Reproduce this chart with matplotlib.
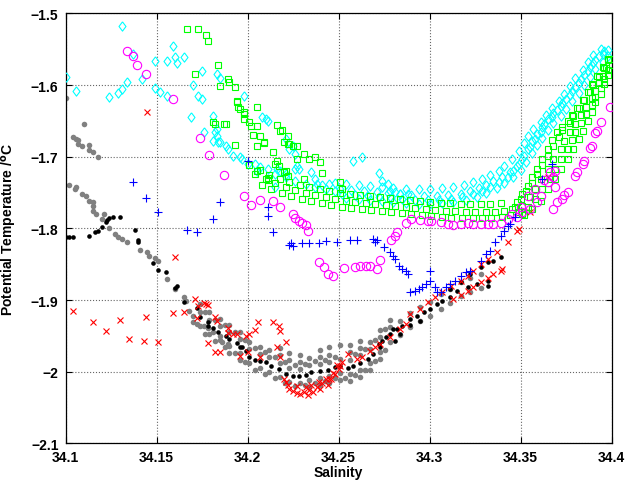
import numpy as np
import matplotlib
matplotlib.use("Agg")
import matplotlib.pyplot as plt

plt.rcParams['font.family'] = ['Liberation Sans', 'DejaVu Sans']
plt.rcParams['font.weight'] = 'bold'
plt.rcParams['mathtext.default'] = 'bf'

# ---- data (salinity, potential temperature) ----
cyan_pts = [
    (34.100, -1.589), (34.131, -1.517), (34.106, -1.608), (34.124, -1.617), (34.129, -1.611),
    (34.131, -1.605), (34.134, -1.596), (34.142, -1.591), (34.137, -1.556), (34.149, -1.566),
    (34.149, -1.604), (34.152, -1.610), (34.156, -1.615), (34.159, -1.545), (34.156, -1.566),
    (34.160, -1.561), (34.161, -1.569), (34.165, -1.561), (34.169, -1.645), (34.170, -1.600),
    (34.173, -1.615), (34.175, -1.620), (34.175, -1.580), (34.176, -1.665), (34.181, -1.643),
    (34.183, -1.584), (34.185, -1.590), (34.183, -1.661), (34.183, -1.671), (34.185, -1.680),
    (34.188, -1.685), (34.189, -1.689), (34.192, -1.699), (34.196, -1.700), (34.198, -1.615),
    (34.197, -1.703), (34.200, -1.710), (34.205, -1.720), (34.182, -1.666), (34.181, -1.678),
    (34.184, -1.680), (34.204, -1.710), (34.207, -1.714), (34.211, -1.717), (34.208, -1.645),
    (34.211, -1.650), (34.216, -1.717), (34.215, -1.742), (34.218, -1.720), (34.221, -1.724),
    (34.225, -1.685), (34.226, -1.717), (34.227, -1.713), (34.235, -1.721), (34.237, -1.731),
    (34.238, -1.738), (34.210, -1.647), (34.258, -1.706), (34.263, -1.700), (34.272, -1.722),
    (34.274, -1.734), (34.277, -1.738), (34.223, -1.689), (34.221, -1.675), (34.278, -1.747),
    (34.281, -1.749), (34.284, -1.752), (34.288, -1.752), (34.241, -1.740), (34.245, -1.738),
    (34.228, -1.717), (34.226, -1.696), (34.215, -1.724), (34.221, -1.728), (34.226, -1.734),
    (34.232, -1.738), (34.237, -1.742), (34.243, -1.745), (34.248, -1.748),
]
cyan_band = [
    (34.251, -1.745), (34.257, -1.746), (34.264, -1.748), (34.271, -1.749), (34.277, -1.750),
    (34.284, -1.752), (34.290, -1.753), (34.297, -1.755), (34.304, -1.755), (34.310, -1.753),
    (34.317, -1.752), (34.322, -1.748), (34.327, -1.743), (34.331, -1.739), (34.335, -1.734),
    (34.340, -1.728), (34.344, -1.721), (34.348, -1.713), (34.351, -1.703), (34.354, -1.689),
    (34.356, -1.678), (34.359, -1.668), (34.362, -1.658), (34.365, -1.647), (34.368, -1.639),
    (34.372, -1.629), (34.375, -1.619), (34.378, -1.608), (34.382, -1.597), (34.385, -1.586),
    (34.388, -1.575), (34.391, -1.565), (34.395, -1.556), (34.398, -1.551),
    (34.254, -1.757), (34.261, -1.759), (34.267, -1.760), (34.274, -1.761), (34.280, -1.763),
    (34.287, -1.764), (34.294, -1.766), (34.300, -1.766), (34.307, -1.764), (34.313, -1.763),
    (34.320, -1.760), (34.326, -1.756), (34.331, -1.750), (34.337, -1.743), (34.341, -1.736),
    (34.346, -1.728), (34.350, -1.718), (34.353, -1.707), (34.356, -1.695), (34.359, -1.683),
    (34.362, -1.674), (34.365, -1.662), (34.368, -1.653), (34.372, -1.643), (34.375, -1.633),
    (34.378, -1.622), (34.382, -1.611), (34.385, -1.600), (34.388, -1.589), (34.391, -1.577),
    (34.395, -1.568), (34.398, -1.559),
    (34.248, -1.736), (34.254, -1.738), (34.261, -1.739), (34.267, -1.741), (34.274, -1.742),
    (34.280, -1.743), (34.287, -1.745), (34.294, -1.745), (34.300, -1.745), (34.307, -1.743),
    (34.313, -1.742), (34.319, -1.739), (34.324, -1.735), (34.329, -1.731), (34.333, -1.725),
    (34.338, -1.720), (34.341, -1.713), (34.345, -1.703), (34.349, -1.692), (34.352, -1.681),
    (34.354, -1.671), (34.357, -1.661), (34.361, -1.651), (34.364, -1.642), (34.367, -1.632),
    (34.371, -1.622), (34.374, -1.612), (34.377, -1.601), (34.380, -1.590), (34.384, -1.579),
    (34.387, -1.568), (34.390, -1.558), (34.394, -1.550),
    (34.252, -1.752), (34.259, -1.753), (34.266, -1.755), (34.272, -1.756), (34.279, -1.757),
    (34.285, -1.759), (34.292, -1.760), (34.299, -1.760), (34.305, -1.760), (34.312, -1.759),
    (34.318, -1.756), (34.324, -1.752), (34.329, -1.748), (34.333, -1.742), (34.338, -1.735),
    (34.343, -1.728), (34.346, -1.720), (34.349, -1.710), (34.352, -1.699), (34.355, -1.686),
    (34.358, -1.675), (34.361, -1.665), (34.363, -1.654), (34.367, -1.644), (34.370, -1.635),
    (34.373, -1.625), (34.377, -1.614), (34.380, -1.603), (34.383, -1.591), (34.387, -1.580),
    (34.390, -1.569), (34.393, -1.559), (34.396, -1.552),
]
green_pts = [
    (34.167, -1.522), (34.173, -1.522), (34.177, -1.530), (34.178, -1.538), (34.184, -1.572),
    (34.171, -1.584), (34.189, -1.591), (34.190, -1.596), (34.185, -1.601), (34.193, -1.603),
    (34.194, -1.622), (34.196, -1.633), (34.198, -1.637), (34.198, -1.647), (34.181, -1.651),
    (34.187, -1.654), (34.188, -1.654), (34.201, -1.651), (34.202, -1.657), (34.203, -1.669),
    (34.205, -1.685), (34.193, -1.683), (34.194, -1.623), (34.195, -1.630), (34.198, -1.640),
    (34.205, -1.630), (34.205, -1.657), (34.207, -1.671), (34.209, -1.679), (34.216, -1.656),
    (34.182, -1.654), (34.218, -1.664), (34.222, -1.671), (34.220, -1.679), (34.222, -1.682),
    (34.225, -1.685), (34.214, -1.693), (34.227, -1.703), (34.231, -1.696), (34.234, -1.703),
    (34.237, -1.700), (34.216, -1.706), (34.221, -1.720), (34.222, -1.727), (34.231, -1.731),
    (34.205, -1.720), (34.211, -1.729), (34.219, -1.662), (34.209, -1.681), (34.223, -1.682),
    (34.227, -1.685), (34.240, -1.707), (34.215, -1.710), (34.217, -1.713), (34.220, -1.721),
    (34.211, -1.732), (34.241, -1.722), (34.251, -1.735), (34.252, -1.745),
]
green_band = [
    (34.204, -1.724), (34.210, -1.731), (34.215, -1.736), (34.221, -1.742), (34.226, -1.746),
    (34.232, -1.750), (34.237, -1.753), (34.243, -1.756), (34.248, -1.759), (34.254, -1.761),
    (34.259, -1.763), (34.265, -1.764), (34.270, -1.766), (34.276, -1.767), (34.281, -1.768),
    (34.287, -1.770), (34.292, -1.771), (34.298, -1.773), (34.303, -1.774), (34.309, -1.775),
    (34.314, -1.775), (34.320, -1.777), (34.325, -1.777), (34.331, -1.777), (34.336, -1.777),
    (34.341, -1.775), (34.345, -1.773),
    (34.201, -1.711), (34.207, -1.718), (34.212, -1.725), (34.218, -1.731), (34.223, -1.735),
    (34.229, -1.739), (34.234, -1.742), (34.240, -1.745), (34.245, -1.748), (34.251, -1.750),
    (34.256, -1.752), (34.262, -1.753), (34.267, -1.755), (34.273, -1.756), (34.278, -1.757),
    (34.284, -1.759), (34.289, -1.760), (34.295, -1.761), (34.300, -1.763), (34.306, -1.764),
    (34.311, -1.764), (34.317, -1.766), (34.322, -1.766), (34.328, -1.766), (34.333, -1.766),
    (34.339, -1.764),
    (34.208, -1.739), (34.213, -1.745), (34.219, -1.750), (34.224, -1.755), (34.230, -1.759),
    (34.235, -1.761), (34.241, -1.764), (34.246, -1.767), (34.252, -1.770), (34.257, -1.771),
    (34.263, -1.773), (34.268, -1.774), (34.274, -1.775), (34.279, -1.777), (34.285, -1.778),
    (34.290, -1.780), (34.296, -1.781), (34.301, -1.782), (34.307, -1.784), (34.312, -1.785),
    (34.318, -1.785), (34.324, -1.785), (34.329, -1.785), (34.334, -1.785), (34.340, -1.784),
    (34.344, -1.781),
    (34.348, -1.763), (34.351, -1.752), (34.354, -1.741), (34.356, -1.728), (34.359, -1.717),
    (34.362, -1.703), (34.365, -1.689), (34.367, -1.676), (34.370, -1.665), (34.373, -1.658),
    (34.376, -1.650), (34.378, -1.642), (34.381, -1.632), (34.384, -1.621), (34.387, -1.609),
    (34.389, -1.598), (34.392, -1.587), (34.395, -1.575), (34.398, -1.563),
    (34.347, -1.770), (34.350, -1.759), (34.353, -1.748), (34.356, -1.736), (34.359, -1.724),
    (34.362, -1.711), (34.365, -1.699), (34.368, -1.685), (34.371, -1.672), (34.373, -1.662),
    (34.377, -1.653), (34.379, -1.643), (34.382, -1.632), (34.385, -1.621), (34.388, -1.609),
    (34.390, -1.600), (34.393, -1.589), (34.396, -1.576), (34.398, -1.565),
    (34.349, -1.777), (34.351, -1.768), (34.355, -1.756), (34.358, -1.745), (34.361, -1.731),
    (34.365, -1.717), (34.368, -1.703), (34.372, -1.689), (34.374, -1.678), (34.377, -1.665),
    (34.380, -1.654), (34.383, -1.642), (34.386, -1.630), (34.389, -1.618), (34.391, -1.608),
    (34.393, -1.597), (34.395, -1.587), (34.397, -1.576), (34.399, -1.563),
    (34.351, -1.780), (34.354, -1.770), (34.358, -1.759), (34.362, -1.745), (34.366, -1.731),
    (34.369, -1.717), (34.372, -1.703), (34.376, -1.689), (34.378, -1.676), (34.380, -1.665),
    (34.383, -1.653), (34.386, -1.640), (34.389, -1.628), (34.391, -1.616), (34.394, -1.604),
    (34.396, -1.591), (34.398, -1.579),
    (34.352, -1.781), (34.356, -1.773), (34.361, -1.761), (34.365, -1.745), (34.369, -1.731),
    (34.372, -1.717), (34.376, -1.703), (34.379, -1.689), (34.382, -1.675), (34.384, -1.664),
    (34.387, -1.650), (34.389, -1.637), (34.391, -1.623), (34.394, -1.612), (34.396, -1.598),
    (34.398, -1.586), (34.400, -1.572),
]
magenta_pts = [
    (34.134, -1.552), (34.137, -1.559), (34.139, -1.572), (34.144, -1.584), (34.159, -1.619),
    (34.174, -1.674), (34.179, -1.697), (34.187, -1.725), (34.198, -1.755), (34.202, -1.767),
    (34.207, -1.760), (34.214, -1.761), (34.218, -1.770), (34.225, -1.780), (34.226, -1.785),
    (34.228, -1.789), (34.230, -1.792), (34.232, -1.795), (34.233, -1.803), (34.239, -1.847),
    (34.242, -1.854), (34.244, -1.863), (34.247, -1.866), (34.253, -1.855), (34.259, -1.854),
    (34.262, -1.852), (34.265, -1.852), (34.267, -1.852), (34.271, -1.856), (34.273, -1.844),
    (34.279, -1.816), (34.281, -1.810), (34.282, -1.805), (34.287, -1.792), (34.290, -1.787),
    (34.295, -1.788), (34.299, -1.789), (34.301, -1.789), (34.306, -1.791), (34.310, -1.794),
    (34.313, -1.795), (34.317, -1.794), (34.321, -1.792), (34.324, -1.794), (34.328, -1.794),
    (34.332, -1.794), (34.335, -1.794), (34.339, -1.792), (34.343, -1.787), (34.345, -1.780),
    (34.348, -1.784), (34.351, -1.777), (34.355, -1.773), (34.359, -1.763), (34.361, -1.755),
    (34.365, -1.735), (34.366, -1.721), (34.368, -1.728), (34.369, -1.742), (34.368, -1.773),
    (34.370, -1.763), (34.373, -1.759), (34.374, -1.753), (34.376, -1.749), (34.380, -1.727),
    (34.381, -1.721), (34.384, -1.710), (34.385, -1.706), (34.388, -1.688), (34.389, -1.685),
    (34.391, -1.667), (34.392, -1.664), (34.394, -1.651), (34.399, -1.630), (34.354, -1.755),
    (34.350, -1.770), (34.358, -1.745), (34.363, -1.732), (34.369, -1.720),
]
blue_pts = [
    (34.137, -1.735), (34.200, -1.706), (34.144, -1.757), (34.151, -1.777), (34.167, -1.802),
    (34.172, -1.805), (34.181, -1.787), (34.185, -1.763), (34.211, -1.770), (34.211, -1.782),
    (34.214, -1.805), (34.223, -1.823), (34.225, -1.824), (34.224, -1.820), (34.230, -1.820),
    (34.234, -1.820), (34.239, -1.820), (34.243, -1.817), (34.249, -1.819), (34.256, -1.816),
    (34.260, -1.816), (34.269, -1.815), (34.271, -1.816), (34.270, -1.819), (34.275, -1.826),
    (34.278, -1.833), (34.280, -1.838), (34.281, -1.842), (34.283, -1.852), (34.285, -1.856),
    (34.287, -1.859), (34.288, -1.863), (34.300, -1.859), (34.300, -1.873), (34.303, -1.881),
    (34.304, -1.888), (34.289, -1.888), (34.292, -1.887), (34.294, -1.884), (34.296, -1.881),
    (34.298, -1.877), (34.306, -1.888), (34.309, -1.881), (34.311, -1.877), (34.314, -1.873),
    (34.317, -1.866), (34.320, -1.861), (34.322, -1.859), (34.328, -1.845), (34.331, -1.835),
    (34.333, -1.831), (34.336, -1.819), (34.339, -1.810), (34.341, -1.803), (34.344, -1.794),
    (34.347, -1.784), (34.367, -1.710), (34.362, -1.731), (34.343, -1.796),
]
red_pts = [
    (34.145, -1.637), (34.160, -1.840), (34.104, -1.915), (34.115, -1.930), (34.122, -1.943),
    (34.130, -1.928), (34.135, -1.954), (34.143, -1.957), (34.144, -1.923), (34.151, -1.958),
    (34.159, -1.918), (34.165, -1.916), (34.171, -1.898), (34.173, -1.908), (34.176, -1.904),
    (34.178, -1.907), (34.172, -1.925), (34.178, -1.960), (34.182, -1.923), (34.183, -1.929),
    (34.189, -1.939), (34.189, -1.946), (34.192, -1.947), (34.194, -1.947), (34.199, -1.950),
    (34.201, -1.947), (34.204, -1.941), (34.206, -1.930), (34.177, -1.905), (34.214, -1.930),
    (34.217, -1.936), (34.218, -1.943), (34.221, -1.958), (34.216, -1.965), (34.182, -1.972),
    (34.185, -1.973), (34.196, -1.978), (34.207, -1.980), (34.218, -1.979), (34.200, -1.972),
    (34.222, -2.018), (34.225, -2.027), (34.229, -2.031), (34.233, -2.032), (34.236, -2.028),
    (34.240, -2.024), (34.244, -2.018), (34.246, -2.010), (34.248, -2.003), (34.250, -1.996),
    (34.251, -1.992), (34.252, -1.986), (34.260, -1.982), (34.263, -1.979), (34.223, -2.024),
    (34.227, -2.029), (34.231, -2.028), (34.234, -2.025), (34.238, -2.021), (34.241, -2.015),
    (34.245, -2.010), (34.247, -2.001), (34.249, -1.990), (34.227, -2.020), (34.232, -2.021),
    (34.235, -2.018), (34.239, -2.014), (34.243, -2.010), (34.220, -2.010), (34.221, -2.014),
    (34.255, -1.975), (34.267, -1.971), (34.270, -1.965), (34.273, -1.961), (34.289, -1.919),
    (34.295, -1.912), (34.299, -1.902), (34.303, -1.895), (34.307, -1.888), (34.312, -1.880),
    (34.317, -1.873), (34.321, -1.866), (34.324, -1.859), (34.328, -1.850), (34.332, -1.842),
    (34.337, -1.833), (34.343, -1.819), (34.348, -1.803), (34.349, -1.801), (34.355, -1.777),
    (34.365, -1.728), (34.313, -1.898), (34.317, -1.893), (34.321, -1.887), (34.324, -1.881),
    (34.328, -1.874), (34.332, -1.869), (34.335, -1.863), (34.339, -1.859), (34.340, -1.856),
    (34.284, -1.940), (34.278, -1.951), (34.287, -1.933),
]
black_pts = [
    (34.100, -1.812), (34.102, -1.812), (34.104, -1.812), (34.113, -1.810), (34.116, -1.805),
    (34.118, -1.803), (34.120, -1.798), (34.122, -1.791), (34.123, -1.788), (34.124, -1.785),
    (34.126, -1.784), (34.130, -1.784), (34.138, -1.802), (34.140, -1.816), (34.140, -1.819),
    (34.148, -1.848), (34.151, -1.858), (34.155, -1.861), (34.161, -1.880), (34.160, -1.883),
    (34.165, -1.902), (34.172, -1.911), (34.174, -1.923), (34.178, -1.930), (34.178, -1.936),
    (34.181, -1.939), (34.184, -1.944), (34.188, -1.950), (34.190, -1.954), (34.194, -1.960),
    (34.196, -1.965), (34.197, -1.965), (34.199, -1.971), (34.201, -1.980), (34.204, -1.983),
    (34.207, -1.985), (34.210, -1.986), (34.213, -1.992), (34.217, -1.996), (34.221, -2.003),
    (34.225, -2.006), (34.228, -2.006), (34.232, -2.004), (34.235, -2.000), (34.240, -1.999),
    (34.244, -1.997), (34.248, -1.993), (34.251, -1.992), (34.255, -1.994), (34.258, -1.992),
    (34.262, -1.987), (34.266, -1.982), (34.269, -1.975), (34.272, -1.961), (34.273, -1.965),
    (34.274, -1.957), (34.278, -1.947), (34.282, -1.940), (34.285, -1.936), (34.289, -1.926),
    (34.293, -1.922), (34.297, -1.916), (34.300, -1.912), (34.304, -1.905), (34.307, -1.901),
    (34.311, -1.895), (34.315, -1.887), (34.321, -1.881), (34.326, -1.877), (34.332, -1.873),
    (34.332, -1.880), (34.328, -1.854), (34.332, -1.847), (34.335, -1.845), (34.339, -1.840),
    (34.322, -1.863), (34.317, -1.875), (34.311, -1.884), (34.276, -1.951), (34.280, -1.940),
    (34.284, -1.947), (34.289, -1.934), (34.295, -1.929), (34.281, -1.957),
]
gray_pts = [
    (34.100, -1.618), (34.110, -1.654), (34.104, -1.672), (34.106, -1.675), (34.107, -1.676),
    (34.107, -1.682), (34.109, -1.685), (34.113, -1.683), (34.113, -1.690), (34.115, -1.693),
    (34.118, -1.700), (34.102, -1.739), (34.106, -1.742), (34.105, -1.745), (34.109, -1.752),
    (34.111, -1.755), (34.113, -1.761), (34.115, -1.763), (34.115, -1.768), (34.115, -1.775),
    (34.117, -1.780), (34.120, -1.787), (34.121, -1.780), (34.124, -1.799), (34.127, -1.808),
    (34.129, -1.812), (34.131, -1.815), (34.134, -1.819), (34.141, -1.830), (34.145, -1.833),
    (34.146, -1.838), (34.149, -1.841), (34.151, -1.845), (34.156, -1.870), (34.160, -1.884),
    (34.165, -1.895), (34.166, -1.901), (34.168, -1.915), (34.170, -1.922), (34.170, -1.930),
    (34.172, -1.933), (34.176, -1.936), (34.178, -1.939), (34.181, -1.944), (34.185, -1.950),
    (34.186, -1.958), (34.189, -1.961),
]
gray_cloud = [
    (34.174, -1.906), (34.179, -1.917), (34.185, -1.926), (34.190, -1.934), (34.196, -1.944),
    (34.201, -1.958), (34.207, -1.965), (34.212, -1.970), (34.218, -1.977), (34.223, -1.984),
    (34.229, -1.986), (34.234, -1.981), (34.240, -1.979), (34.245, -1.976), (34.256, -1.973),
    (34.262, -1.967), (34.267, -1.958), (34.273, -1.942), (34.278, -1.928),
    (34.174, -1.916), (34.179, -1.927), (34.185, -1.936), (34.190, -1.944), (34.196, -1.954),
    (34.201, -1.968), (34.207, -1.975), (34.212, -1.980), (34.218, -1.987), (34.223, -1.994),
    (34.229, -1.996), (34.234, -1.991), (34.240, -1.989), (34.245, -1.986), (34.251, -1.982),
    (34.256, -1.983), (34.262, -1.977), (34.267, -1.968), (34.273, -1.952), (34.278, -1.938),
    (34.284, -1.929), (34.289, -1.918), (34.295, -1.909), (34.300, -1.902), (34.306, -1.892),
    (34.311, -1.884), (34.317, -1.874), (34.322, -1.869), (34.328, -1.863),
    (34.174, -1.936), (34.179, -1.947), (34.185, -1.956), (34.190, -1.964), (34.196, -1.974),
    (34.201, -1.988), (34.207, -1.995), (34.212, -2.000), (34.218, -2.007), (34.223, -2.014),
    (34.229, -2.016), (34.234, -2.011), (34.240, -2.009), (34.245, -2.006), (34.251, -2.002),
    (34.256, -2.003), (34.262, -1.997), (34.267, -1.988), (34.273, -1.972), (34.278, -1.958),
    (34.284, -1.949), (34.289, -1.938), (34.295, -1.929), (34.300, -1.922), (34.306, -1.912),
    (34.311, -1.904), (34.317, -1.894), (34.322, -1.889), (34.328, -1.883),
    (34.190, -1.974), (34.196, -1.984), (34.234, -2.021), (34.240, -2.019), (34.245, -2.016),
    (34.251, -2.012), (34.256, -2.013), (34.262, -2.007), (34.267, -1.998), (34.273, -1.982),
    (34.218, -1.967), (34.223, -1.974), (34.229, -1.976), (34.240, -1.969), (34.245, -1.966),
    (34.251, -1.962), (34.256, -1.963), (34.262, -1.957),
    (34.1765, -1.917), (34.182, -1.927), (34.1875, -1.935), (34.193, -1.944), (34.1985, -1.956),
    (34.204, -1.967), (34.2095, -1.973), (34.215, -1.979), (34.2205, -1.986), (34.226, -1.990),
    (34.2315, -1.989), (34.237, -1.985), (34.2425, -1.983), (34.248, -1.979), (34.259, -1.975),
    (34.2645, -1.968), (34.270, -1.955), (34.2755, -1.940),
    (34.1765, -1.947), (34.182, -1.957), (34.1875, -1.965), (34.193, -1.974), (34.1985, -1.986),
    (34.204, -1.997), (34.2095, -2.003), (34.215, -2.009), (34.2205, -2.016), (34.226, -2.020),
    (34.2315, -2.019), (34.237, -2.015), (34.2425, -2.013), (34.248, -2.009), (34.2535, -2.008),
    (34.259, -2.005), (34.2645, -1.998), (34.270, -1.985), (34.2755, -1.970),
]

x_ticks = [34.1, 34.15, 34.2, 34.25, 34.3, 34.35, 34.4]
x_labels = ['34.1', '34.15', '34.2', '34.25', '34.3', '34.35', '34.4']
y_ticks = [-2.1, -2.0, -1.9, -1.8, -1.7, -1.6, -1.5]
y_labels = ['\u22122.1', '\u22122', '\u22121.9', '\u22121.8', '\u22121.7', '\u22121.6', '\u22121.5']


def xy(*groups):
    a = np.array([p for g in groups for p in g])
    return a[:, 0], a[:, 1]


fig = plt.figure(figsize=(6.27, 4.81), dpi=100)
ax = fig.add_axes([0.1045, 0.0759, 0.871, 0.894])

diamond = [(0, 1), (0.75, 0), (0, -1), (-0.75, 0), (0, 1)]
mew = 0.8

s, t = xy(gray_pts, gray_cloud)
ax.plot(s, t, ls='none', marker='o', ms=4.0, mfc='#808080', mec='none', zorder=2)
s, t = xy(black_pts)
ax.plot(s, t, ls='none', marker='o', ms=3.3, mfc='k', mec='none', zorder=3)
s, t = xy(red_pts)
ax.plot(s, t, ls='none', marker='x', ms=4.3, mec='#ff0000', mew=mew, zorder=4)
s, t = xy(cyan_pts, cyan_band)
ax.plot(s, t, ls='none', marker=diamond, ms=6.7, mfc='none', mec='#00ffff', mew=mew, zorder=5)
s, t = xy(green_pts, green_band)
ax.plot(s, t, ls='none', marker='s', ms=4.8, mfc='none', mec='#00ff00', mew=mew, zorder=6)
s, t = xy(magenta_pts)
ax.plot(s, t, ls='none', marker='o', ms=6.0, mfc='none', mec='#ff00ff', mew=mew, zorder=7)
s, t = xy(blue_pts)
ax.plot(s, t, ls='none', marker='+', ms=5.5, mec='#0000ff', mew=mew, zorder=8)

ax.set_xlim(34.1, 34.4)
ax.set_ylim(-2.1, -1.5)
ax.set_xticks(x_ticks)
ax.set_xticklabels(x_labels, fontweight='bold', fontsize=10)
ax.set_yticks(y_ticks)
ax.set_yticklabels(y_labels, fontweight='bold', fontsize=10)
ax.tick_params(direction='in', top=True, right=True, length=4, width=0.8, pad=5)
for sp in ax.spines.values():
    sp.set_linewidth(0.9)
ax.grid(True, linestyle=':', color='0.4', linewidth=0.8)
ax.set_axisbelow(True)

ax.set_xlabel('Salinity', fontsize=10, fontweight='bold')
ax.set_ylabel('Potential Temperature /$^{o}$C', fontsize=10, fontweight='bold')
ax.xaxis.set_label_coords(0.5, -0.05)
ax.yaxis.set_label_coords(-0.085, 0.5)

fig.savefig('out.png', dpi=100)
